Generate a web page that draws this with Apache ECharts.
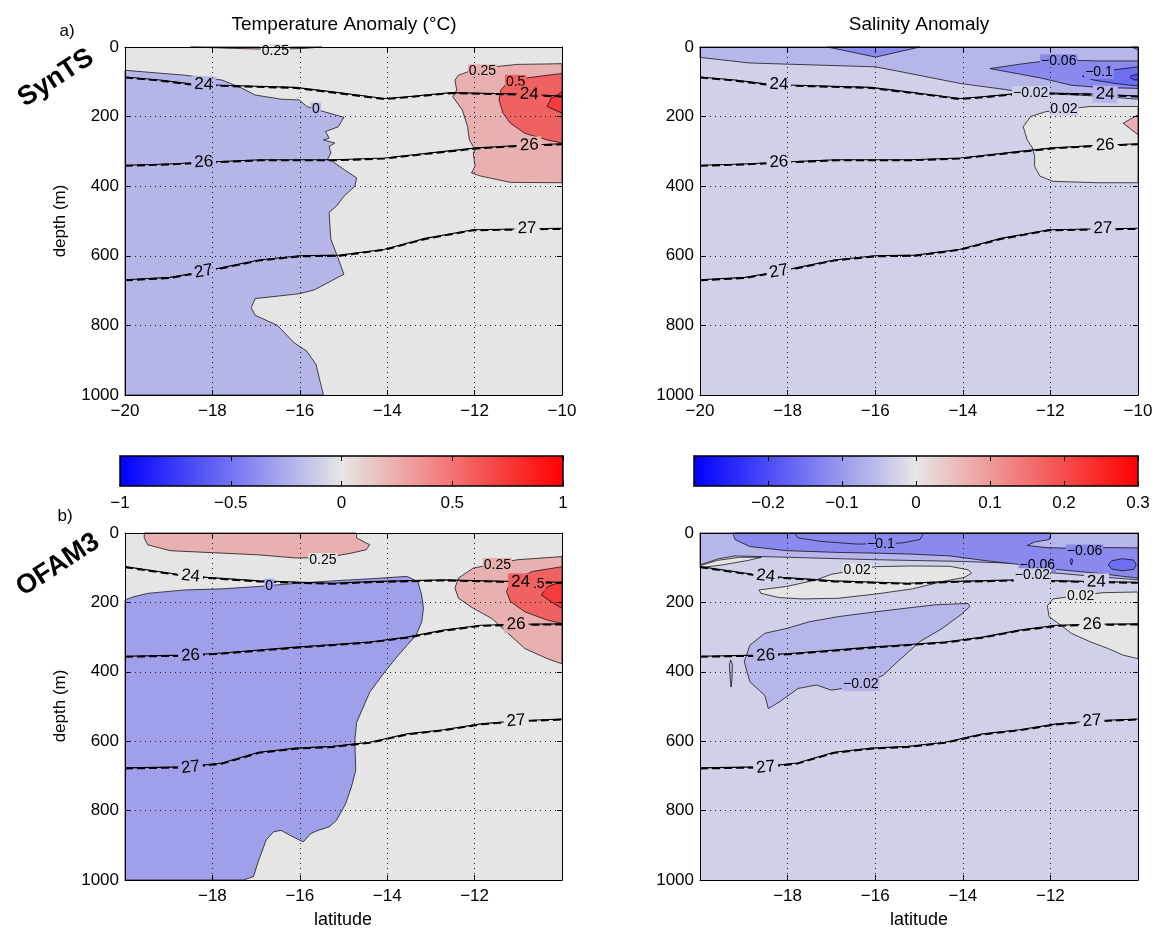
<!DOCTYPE html>
<html><head><meta charset="utf-8">
<script src="https://cdn.jsdelivr.net/npm/echarts@6/dist/echarts.min.js"></script>
<style>html,body{margin:0;padding:0;background:#fff}#c{width:1158px;height:936px}</style>
</head><body><div id="c"></div><script>
// ---------------- DATA (lat, depth in m) ----------------
// x ticks / y ticks / colorbar ticks
const latTicks = [-20, -18, -16, -14, -12, -10];
const depthTicks = [0, 200, 400, 600, 800, 1000];
const tempBarTicks = [-1, -0.5, 0, 0.5, 1];
const salBarTicks = [-0.3, -0.2, -0.1, 0, 0.1, 0.2, 0.3];

// Panel a: SynTS temperature anomaly filled contours
const tA_surfPink = [[-18.5,0],[-17.5,4],[-16.6,7],[-15.9,4],[-15.5,0]];
const tA_blue = [[-20,67],[-18.63,81],[-17.78,95],[-17.36,116],[-17.02,138],[-16.43,150],[-16.01,152],[-15.84,171],[-15.58,181],[-14.99,202],[-15.12,229],[-15.41,243],[-15.33,262],[-15.46,267],[-15.20,276],[-15.33,286],[-15.29,305],[-15.37,324],[-15.25,329],[-14.99,352],[-14.70,376],[-14.74,400],[-14.99,429],[-15.16,457],[-15.33,475],[-15.29,552],[-15.16,595],[-14.99,653],[-15.67,698],[-16.01,709],[-17.02,723],[-17.11,749],[-17.02,771],[-16.51,800],[-16.13,850],[-15.84,874],[-15.63,912],[-15.46,1000],[-20,1000]];
const tA_pink = [[-10,48],[-11.02,50],[-11.95,62],[-12.37,81],[-12.45,95],[-12.41,124],[-12.50,143],[-12.28,181],[-12.16,229],[-12.12,267],[-11.99,295],[-12.03,305],[-11.99,343],[-12.03,352],[-12.07,362],[-11.86,371],[-11.18,389],[-10,390]];
const tA_red = [[-10,76],[-10.76,88],[-11.27,105],[-11.40,124],[-11.44,152],[-11.35,190],[-11.18,219],[-10.85,248],[-10.34,267],[-10,276]];
const tA_red2 = [[-10,129],[-10.25,148],[-10.34,171],[-10,190]];
const tA_labels = [[-16.56,12,'0.25'],[-11.82,70,'0.25'],[-11.06,100,'0.5'],[-15.63,180,'0']];

// Panel b: SynTS salinity anomaly filled contours
const sB_band = [[-20,0],[-10,0],[-10,150],[-10.93,141],[-11.77,136],[-12.62,131],[-13.04,122],[-14.05,105],[-14.89,84],[-15.99,57],[-18.86,46],[-20,30]];
const sB_topDark = [[-17.09,0],[-15.99,29],[-14.98,0]];
const sB_cornerDark = [[-10.15,0],[-10,0],[-10,8]];
const sB_dark = [[-13.38,62],[-12.62,48],[-12.11,40],[-11.5,38],[-10.93,40],[-10,40],[-10,119],[-10.93,116],[-11.52,110],[-12.19,90],[-12.78,76]];
const sB_darker = [[-11.27,84],[-10.76,69],[-10,57],[-10,112],[-10.51,105],[-11.01,95]];
const sB_darkest = [[-10,78],[-10.15,82],[-10.18,88],[-10.1,94],[-10,95]];
const sB_grey = [[-10,171],[-11.10,171],[-12.11,186],[-12.45,200],[-12.62,229],[-12.53,267],[-12.41,290],[-12.36,314],[-12.36,343],[-12.24,371],[-11.94,386],[-10.93,390],[-10,390]];
const sB_pink = [[-10,195],[-10.34,219],[-10,252]];
const sB_labels = [[-11.81,41,'\u22120.06'],[-10.89,72,'\u22120.1'],[-12.45,133,'\u22120.02'],[-11.69,178,'0.02']];

// Panel c: OFAM3 temperature anomaly filled contours
const tC_pinkTop = [[-19.56,0],[-14.70,0],[-14.70,14],[-14.40,34],[-14.48,48],[-14.82,58],[-15.41,71],[-16.09,72],[-16.94,63],[-17.78,58],[-18.97,51],[-19.48,34],[-19.56,14]];
const tC_blue = [[-20,193],[-19.81,184],[-19.48,174],[-18.63,164],[-17.78,161],[-16.94,154],[-16.09,145],[-15.25,138],[-14.40,132],[-13.55,125],[-13.30,140],[-13.21,179],[-13.17,217],[-13.21,256],[-13.34,295],[-13.55,324],[-13.81,362],[-14.06,401],[-14.40,459],[-14.70,546],[-14.74,598],[-14.72,684],[-14.82,732],[-14.95,780],[-15.16,828],[-15.33,847],[-15.58,857],[-15.75,866],[-15.92,890],[-16.09,880],[-16.43,857],[-16.60,861],[-16.77,885],[-16.94,943],[-17.06,990],[-17.28,1000],[-20,1000]];
const tC_pink = [[-10,68],[-11.02,77],[-12.03,101],[-12.37,130],[-12.45,159],[-12.37,188],[-12.03,217],[-11.61,246],[-11.27,285],[-10.85,333],[-10.34,362],[-10,377]];
const tC_red = [[-10,97],[-10.68,111],[-11.18,140],[-11.27,169],[-11.18,198],[-10.85,227],[-10.34,251],[-10,261]];
const tC_red2 = [[-10,140],[-10.34,155],[-10.47,179],[-10.25,198],[-10,217]];
const tC_labels = [[-15.47,78,'0.25'],[-11.48,92,'0.25'],[-10.62,146,'0.5'],[-16.70,152,'0']];

// Panel d: OFAM3 salinity anomaly filled contours
const sD_band = [[-20,0],[-10,0],[-10,135],[-11,125],[-12.2,112],[-12.7,88],[-14,82],[-16,77],[-18,70],[-19.2,66],[-19.6,75],[-20,92]];
const sD_greySliver = [[-20,94],[-19.6,79],[-19.1,70],[-18.6,70],[-18.9,79],[-19.5,92],[-20,100]];
const sD_dark = [[-19.25,0],[-11.98,0],[-12.03,19],[-12.36,26],[-12.53,36],[-12.1,42],[-11.3,45],[-10.7,42],[-10,43],[-10,130],[-10.93,116],[-11.77,106],[-12.62,92],[-13.46,80],[-14.3,66],[-15.15,61],[-15.99,58],[-16.84,56],[-18.02,51],[-18.86,39],[-19.2,19]];
const sD_darkest = [[-10.68,92],[-10.6,80],[-10.36,74],[-10.1,78],[-10.04,92],[-10.1,105],[-10.36,109],[-10.6,104]];
const sD_tinyOval = [[-11.52,72],[-11.49,80],[-11.52,92],[-11.55,80]];
const sD_greyMid = [[-18.65,164],[-18.02,154],[-17.34,135],[-17.0,119],[-15.99,97],[-15.15,95],[-14.3,96],[-13.88,106],[-13.80,116],[-13.97,128],[-14.47,140],[-15.15,161],[-15.99,176],[-16.84,188],[-17.68,190],[-18.19,186],[-18.61,174]];
const sD_mid = [[-13.88,203],[-14.64,207],[-15.99,227],[-16.84,241],[-17.51,256],[-18.02,275],[-18.52,289],[-18.86,323],[-18.99,371],[-18.86,429],[-18.52,468],[-18.44,506],[-18.19,487],[-17.76,448],[-17.34,438],[-17.0,453],[-16.33,440],[-15.82,410],[-15.49,371],[-14.98,313],[-14.47,275],[-14.05,236],[-13.84,212]];
const sD_sliver = [[-19.3,366],[-19.26,380],[-19.27,420],[-19.29,444],[-19.31,420],[-19.33,380]];
const sD_greyRight = [[-10,170],[-10.8,172],[-11.35,180],[-11.94,190],[-12.07,210],[-12.03,241],[-11.77,265],[-11.52,289],[-11.10,313],[-10.68,333],[-10.34,352],[-10,362]];
const sD_minus01 = [[-17.85,0],[-17.76,14],[-17.26,24],[-16.41,32],[-15.40,29],[-14.98,19],[-14.89,0]];
const sD_labels = [[-15.87,32,'\u22120.1'],[-11.22,53,'\u22120.06'],[-12.30,92,'\u22120.06'],[-12.41,122,'\u22120.02'],[-16.41,108,'0.02'],[-11.31,183,'0.02'],[-16.33,436,'\u22120.02']];

// Density (sigma) contours
const synIso24 = [[-20,86],[-19.2,95],[-18.5,106],[-17.8,110],[-16.1,116],[-15.25,129],[-14.06,148],[-13.55,143],[-12.54,131],[-11.02,135],[-10,141]];
const synIso26 = [[-20,340],[-19,336],[-18.2,331],[-16.9,324],[-15.2,324],[-14.06,319],[-12.7,300],[-11.95,290],[-11,283],[-10,278]];
const synIso27 = [[-20,669],[-18.97,662],[-18.2,645],[-17.78,634],[-16.94,612],[-16.01,600],[-15.08,598],[-14.06,581],[-13.13,550],[-12.03,525],[-10,521]];
const synIsoLabels = [[-18.2,108,'24'],[-10.75,136,'24'],[-18.2,331,'26'],[-10.75,282,'26'],[-18.2,645,'27'],[-10.8,521,'27']];
const ofIso24 = [[-20,97],[-18.8,119],[-18.12,128],[-16.94,138],[-15.25,145],[-14.4,140],[-12.71,135],[-11.02,140],[-10,142]];
const ofIso26 = [[-20,355],[-18.6,352],[-17.78,346],[-16.09,329],[-14.40,314],[-13.55,300],[-12.71,280],[-11.86,266],[-11,263],[-10,262]];
const ofIso27 = [[-20,677],[-18.6,674],[-17.78,663],[-16.94,632],[-16.09,620],[-15.25,615],[-14.40,603],[-13.55,579],[-12.71,567],[-11.86,550],[-11,541],[-10,536]];
const ofIsoLabels = [[-18.5,124,'24'],[-10.95,141,'24'],[-18.5,353,'26'],[-11.05,263,'26'],[-18.5,675,'27'],[-11.05,541,'27']];

// ---------------- STYLE / LAYOUT ----------------
const FONT = '"Liberation Sans", Arial, Helvetica, sans-serif';
const GREY='#e5e5e5', BLUE_A='#b5b5e8', BLUE_C='#a0a0ea', PINK='#e8b0b0', RED1='#f06262', RED2='#f53b3b';
const SAL_BG='#d0d0e8', SAL_1='#b6b6ea', SAL_2='#8a8aee', SAL_3='#6e6ef0', SAL_4='#5252f2';

const grids = [
  {left:125, top:47, width:437, height:348},
  {left:700, top:47, width:438, height:348},
  {left:125, top:533, width:437, height:347},
  {left:700, top:533, width:438, height:347},
  {left:120, top:456, width:443, height:30},
  {left:694, top:456, width:444, height:30}
];

const panels = [
  {bg:GREY, fills:[[tA_surfPink,PINK],[tA_blue,BLUE_A],[tA_pink,PINK],[tA_red,RED1],[tA_red2,RED2]], lines:[], labels:tA_labels, iso:{'24':synIso24,'26':synIso26,'27':synIso27}, isoLabels:synIsoLabels},
  {bg:SAL_BG, fills:[[sB_band,SAL_1],[sB_topDark,SAL_2],[sB_cornerDark,SAL_2],[sB_dark,SAL_2],[sB_darker,SAL_3],[sB_darkest,SAL_4],[sB_grey,GREY],[sB_pink,PINK]], lines:[], labels:sB_labels, iso:{'24':synIso24,'26':synIso26,'27':synIso27}, isoLabels:synIsoLabels},
  {bg:GREY, fills:[[tC_pinkTop,PINK],[tC_blue,BLUE_C],[tC_pink,PINK],[tC_red,RED1],[tC_red2,RED2]], lines:[], labels:tC_labels, iso:{'24':ofIso24,'26':ofIso26,'27':ofIso27}, isoLabels:ofIsoLabels},
  {bg:SAL_BG, fills:[[sD_band,SAL_1],[sD_greySliver,GREY],[sD_dark,SAL_2],[sD_darkest,SAL_3],[sD_tinyOval,SAL_3],[sD_greyMid,GREY],[sD_mid,SAL_1],[sD_sliver,SAL_1],[sD_greyRight,GREY]], lines:[sD_minus01], labels:sD_labels, iso:{'24':ofIso24,'26':ofIso26,'27':ofIso27}, isoLabels:ofIsoLabels}
];

function inside(pt, poly){
  let c=false;
  for(let i=0,j=poly.length-1;i<poly.length;j=i++){
    const xi=poly[i][0], yi=poly[i][1], xj=poly[j][0], yj=poly[j][1];
    if(((yi>pt[1])!==(yj>pt[1])) && (pt[0] < (xj-xi)*(pt[1]-yi)/(yj-yi)+xi)) c=!c;
  }
  return c;
}
function bgAt(p, lat, d){
  let col=p.bg;
  p.fills.forEach(f=>{ if(inside([lat,d],f[0])) col=f[1]; });
  return col;
}
function isoAngle(api, pts, lat){
  let i=0; while(i<pts.length-2 && pts[i+1][0]<lat) i++;
  const a=api.coord(pts[i]), b=api.coord(pts[i+1]);
  return -Math.atan2(b[1]-a[1], b[0]-a[0]);
}

function buildItems(p){
  const items=[];
  p.fills.forEach(f=>items.push({k:'poly',pts:f[0],color:f[1]}));
  p.lines.forEach(pts=>items.push({k:'cline',pts}));
  Object.keys(p.iso).forEach(key=>items.push({k:'iso',pts:p.iso[key]}));
  p.labels.forEach(l=>items.push({k:'clab',lab:l}));
  p.isoLabels.forEach(l=>items.push({k:'ilab',lab:l}));
  return items;
}

const fmtNum = v => { const r=Math.round(v*100)/100; return String(r).replace('-', '\u2212'); };

const xAxes=[], yAxes=[], series=[];
const axisBase = {
  axisLine:{show:true, onZero:false, lineStyle:{color:'#000', width:1}},
  axisTick:{show:true, inside:true, length:5, lineStyle:{color:'#000'}},
  z:10
};
for(let g=0; g<4; g++){
  const bottomRow = g>=2;
  xAxes.push(Object.assign({}, axisBase, {
    gridIndex:g, type:'value', min:latTicks[0], max:latTicks[latTicks.length-1], interval:2, position:'bottom',
    axisLabel:{color:'#000', fontSize:17, fontFamily:FONT, margin:8,
      formatter:v=> (bottomRow && (v===-20 || v===-10)) ? '' : fmtNum(v)},
    splitLine:{show:true, lineStyle:{color:'#222', width:1, type:[1,4]}}
  }));
  xAxes.push(Object.assign({}, axisBase, {
    gridIndex:g, type:'value', min:-20, max:-10, interval:2, position:'top',
    axisLabel:{show:false}, splitLine:{show:false}
  }));
  yAxes.push(Object.assign({}, axisBase, {
    gridIndex:g, type:'value', min:depthTicks[0], max:depthTicks[depthTicks.length-1], interval:200, inverse:true, position:'left',
    axisLabel:{color:'#000', fontSize:17, fontFamily:FONT, margin:6, formatter:v=>String(v)},
    splitLine:{show:true, lineStyle:{color:'#222', width:1, type:[1,4]}}
  }));
  yAxes.push(Object.assign({}, axisBase, {
    gridIndex:g, type:'value', min:0, max:1000, interval:200, inverse:true, position:'right',
    axisLabel:{show:false}, splitLine:{show:false}
  }));
  const p = panels[g];
  const items = buildItems(p);
  const xi = g*2, yi = g*2;
  series.push({
    type:'custom', xAxisIndex:xi, yAxisIndex:yi, z:2, silent:true,
    data: items.map((it,i)=>[-15,500,i]),
    renderItem:(params, api)=>{
      const it = items[api.value(2)];
      if(it.k==='poly'){
        return {type:'polygon', shape:{points:it.pts.map(q=>api.coord(q))}, style:{fill:it.color, stroke:'#000', lineWidth:0.7}};
      }
      if(it.k==='cline'){
        return {type:'polyline', shape:{points:it.pts.map(q=>api.coord(q))}, style:{fill:null, stroke:'#000', lineWidth:0.7}};
      }
      if(it.k==='iso'){
        const pts = it.pts.map(q=>api.coord(q));
        return {type:'group', children:[
          {type:'polyline', shape:{points:pts}, style:{fill:null, stroke:'#000', lineWidth:1.1}},
          {type:'polyline', shape:{points:pts.map(q=>[q[0], q[1]+0.6])}, style:{fill:null, stroke:'#000', lineWidth:1.9, lineDash:[8,4]}}
        ]};
      }
      if(it.k==='clab'){
        const l=it.lab, c=api.coord([l[0],l[1]]);
        return {type:'text', x:c[0], y:c[1], style:{text:l[2], fontSize:14, fontFamily:FONT, fill:'#000', align:'center', verticalAlign:'middle', backgroundColor:bgAt(p,l[0],l[1]), padding:[0,1]}};
      }
      if(it.k==='ilab'){
        const l=it.lab, c=api.coord([l[0],l[1]]);
        const ang = isoAngle(api, p.iso[l[2]], l[0]);
        return {type:'text', x:c[0], y:c[1], rotation:ang, style:{text:l[2], fontSize:17, fontFamily:FONT, fill:'#000', align:'center', verticalAlign:'middle', backgroundColor:bgAt(p,l[0],l[1]), padding:[0,3]}};
      }
      return null;
    }
  });
}
// Colorbars
const bars = [
  {g:4, ticks:tempBarTicks, min:-1, max:1, interval:0.5, hide:[]},
  {g:5, ticks:salBarTicks, min:-0.3, max:0.3, interval:0.1, hide:[-0.3]}
];
const barStops = ['#0000ff', '#e6e6e6', '#ff0000'];
bars.forEach(b=>{
  const xi = xAxes.length, yi = yAxes.length;
  xAxes.push(Object.assign({}, axisBase, {
    gridIndex:b.g, type:'value', min:b.ticks[0], max:b.ticks[b.ticks.length-1], interval:b.interval, position:'bottom',
    axisLine:{show:true, onZero:false, lineStyle:{color:'#000', width:1.5}},
    axisLabel:{color:'#000', fontSize:17, fontFamily:FONT, margin:9,
      formatter:v=> b.hide.some(h=>Math.abs(h-v)<1e-9) ? '' : fmtNum(v)},
    splitLine:{show:false}
  }));
  xAxes.push(Object.assign({}, axisBase, {
    gridIndex:b.g, type:'value', min:b.min, max:b.max, interval:b.interval, position:'top',
    axisLine:{show:true, onZero:false, lineStyle:{color:'#000', width:1.5}},
    axisLabel:{show:false}, splitLine:{show:false}
  }));
  yAxes.push({gridIndex:b.g, type:'value', min:0, max:1, show:true, position:'left', axisLine:{show:true, onZero:false, lineStyle:{color:'#000', width:1.5}}, axisTick:{show:false}, axisLabel:{show:false}, splitLine:{show:false}, z:10});
  yAxes.push({gridIndex:b.g, type:'value', min:0, max:1, show:true, position:'right', axisLine:{show:true, onZero:false, lineStyle:{color:'#000', width:1.5}}, axisTick:{show:false}, axisLabel:{show:false}, splitLine:{show:false}, z:10});
  series.push({
    type:'custom', xAxisIndex:xi, yAxisIndex:yi, silent:true,
    data:[[b.min, 0, b.max, 1]],
    renderItem:(params, api)=>{
      const a = api.coord([api.value(0), api.value(3)]);
      const c = api.coord([api.value(2), api.value(1)]);
      return {type:'rect', shape:{x:a[0], y:a[1], width:c[0]-a[0], height:c[1]-a[1]},
        style:{fill:new echarts.graphic.LinearGradient(0,0,1,0,[
          {offset:0,color:barStops[0]},{offset:0.5,color:barStops[1]},{offset:1,color:barStops[2]}])}};
    }
  });
});

const txt = (x,y,text,size,extra) => Object.assign({type:'text', x, y, style:{text, fontSize:size, fontFamily:FONT, fill:'#000', align:'center', verticalAlign:'middle'}}, extra||{});
const graphic = [
  txt(344,25,'Temperature Anomaly (\u00b0C)',19),
  txt(919,25,'Salinity Anomaly',19),
  txt(67,31,'a)',17),
  txt(65,516,'b)',17),
  {type:'text', x:56, y:78, rotation:33*Math.PI/180, style:{text:'SynTS', fontSize:27, fontWeight:'bold', fontFamily:FONT, fill:'#000', align:'center', verticalAlign:'middle'}},
  {type:'text', x:58, y:565, rotation:33*Math.PI/180, style:{text:'OFAM3', fontSize:27, fontWeight:'bold', fontFamily:FONT, fill:'#000', align:'center', verticalAlign:'middle'}},
  {type:'text', x:60, y:221, rotation:Math.PI/2, style:{text:'depth (m)', fontSize:17, fontFamily:FONT, fill:'#000', align:'center', verticalAlign:'middle'}},
  {type:'text', x:60, y:706, rotation:Math.PI/2, style:{text:'depth (m)', fontSize:17, fontFamily:FONT, fill:'#000', align:'center', verticalAlign:'middle'}},
  txt(343,920,'latitude',18),
  txt(919,920,'latitude',18)
];

const chart = echarts.init(document.getElementById('c'), null, {renderer:'canvas'});
chart.setOption({
  animation:false,
  backgroundColor:'#fff',
  grid: grids.map((g,i)=>Object.assign({containLabel:false, show:true, backgroundColor: i<4 ? panels[i].bg : 'transparent', borderWidth:0}, g)),
  xAxis:xAxes, yAxis:yAxes, series, graphic
});
</script></body></html>
